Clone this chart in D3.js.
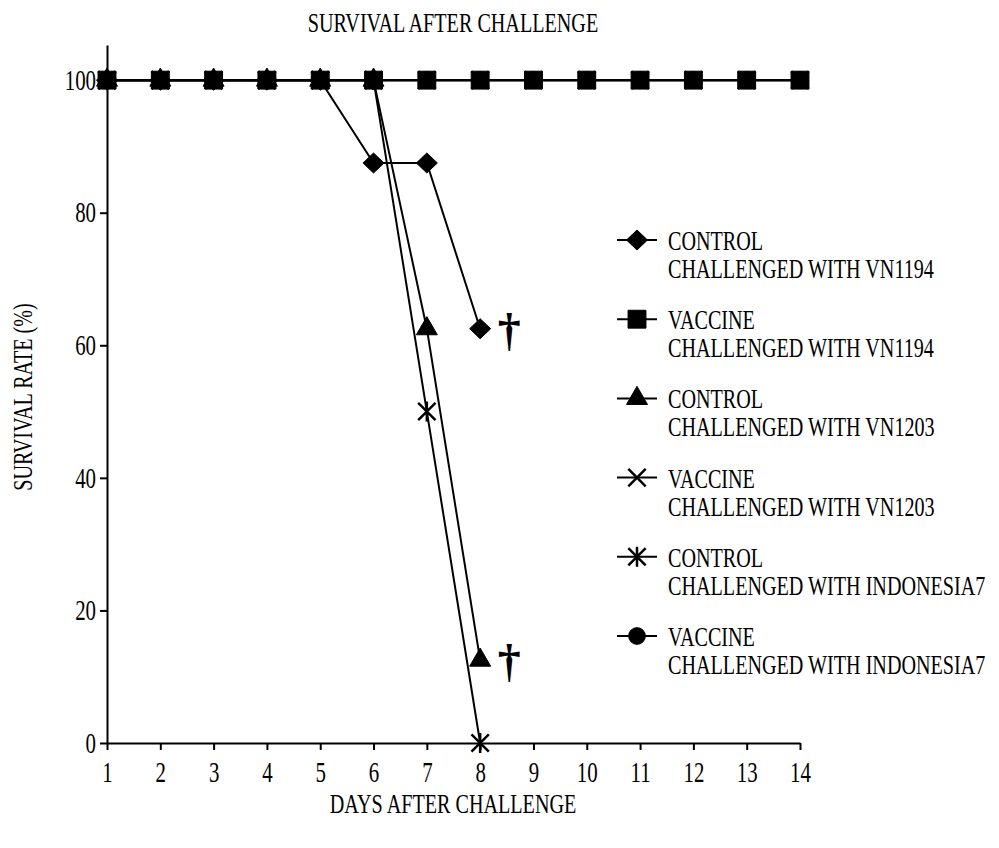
<!DOCTYPE html>
<html>
<head>
	<title>survival after challenge</title>
	<script src="https://cdn.jsdelivr.net/npm/d3@7"></script>
</head>
<style type="text/css">
body { margin: 0; background-color: #fff; }
text { font-family: "Liberation Serif", "Times New Roman", serif; fill: #000; }
</style>
<body>
</body>
<script type="text/javascript">
	var w = 999;
	var h = 848;

	// data
	var days = [1, 2, 3, 4, 5, 6, 7, 8, 9, 10, 11, 12, 13, 14];
	var yTicks = [0, 20, 40, 60, 80, 100];
	var controlVN1194 = [100, 100, 100, 100, 100, 87.5, 87.5, 62.5];
	var vaccineVN1194 = [100, 100, 100, 100, 100, 100, 100, 100, 100, 100, 100, 100, 100, 100];
	var controlVN1203 = [100, 100, 100, 100, 100, 100, 62.5, 12.5];
	var vaccineVN1203 = [100, 100, 100, 100, 100, 100, 100, 100, 100, 100, 100, 100, 100, 100];
	var controlIndo7 = [100, 100, 100, 100, 100, 100, 50, 0];
	var vaccineIndo7 = [100, 100, 100, 100, 100, 100, 100, 100, 100, 100, 100, 100, 100, 100];
	var names = [
		["CONTROL", "CHALLENGED WITH VN1194"],
		["VACCINE", "CHALLENGED WITH VN1194"],
		["CONTROL", "CHALLENGED WITH VN1203"],
		["VACCINE", "CHALLENGED WITH VN1203"],
		["CONTROL", "CHALLENGED WITH INDONESIA7"],
		["VACCINE", "CHALLENGED WITH INDONESIA7"]
	];

	var xDiamond = { draw: function(c, s) { var r = Math.sqrt(s) / 2; c.moveTo(0, -r); c.lineTo(r * 1.05, 0); c.lineTo(0, r); c.lineTo(-r * 1.05, 0); c.closePath(); } };
	var xTimes = { draw: function(c, s) { var r = Math.sqrt(s) / 2; c.moveTo(-r, -r); c.lineTo(r, r); c.moveTo(-r, r); c.lineTo(r, -r); } };
	var xAster = { draw: function(c, s) { var r = Math.sqrt(s) / 2; c.moveTo(-r, -r); c.lineTo(r, r); c.moveTo(-r, r); c.lineTo(r, -r); c.moveTo(0, -r * 1.15); c.lineTo(0, r * 1.15); } };

	var series = [
		{ name: names[0], values: controlVN1194, shape: xDiamond, size: 400, fill: true, dagger: true },
		{ name: names[1], values: vaccineVN1194, shape: d3.symbolSquare, size: 320, fill: true },
		{ name: names[2], values: controlVN1203, shape: d3.symbolTriangle, size: 190, fill: true, dagger: true },
		{ name: names[3], values: vaccineVN1203, shape: xTimes, size: 300, fill: false },
		{ name: names[4], values: controlIndo7, shape: xAster, size: 300, fill: false },
		{ name: names[5], values: vaccineIndo7, shape: d3.symbolCircle, size: 220, fill: true }
	];

	var fs = 28;
	var squeeze = 0.72;
	// narrow the serif face like the condensed type of the original
	function condense(sel) {
		sel.each(function() {
			var t = d3.select(this);
			var tx = +t.attr("x") || 0, ty = +t.attr("y") || 0;
			var rot = t.attr("data-rot") ? " rotate(" + t.attr("data-rot") + ")" : "";
			t.attr("x", 0).attr("y", 0)
				.attr("transform", "translate(" + tx + "," + ty + ")" + rot + " scale(" + squeeze + ",1)");
		});
	}

	var svg = d3.select("body").append("svg").attr("width", w).attr("height", h);

	var x = d3.scaleLinear().domain([1, 14]).range([107, 800]);
	var y = d3.scaleLinear().domain([0, 105.3]).range([743, 45]);

	var xAxis = d3.axisBottom(x).tickValues(days).tickSize(7).tickSizeOuter(0).tickFormat(d3.format("d"));
	var yAxis = d3.axisLeft(y).tickValues(yTicks).tickSize(7).tickSizeOuter(0).tickPadding(4);

	var gx = svg.append("g").attr("transform", "translate(0," + y(0) + ")").call(xAxis);
	var gy = svg.append("g").attr("transform", "translate(" + x(1) + ",0)").call(yAxis);
	[gx, gy].forEach(function(g) {
		g.select(".domain").attr("stroke", "#000").attr("stroke-width", 2);
		g.selectAll(".tick line").attr("stroke", "#000").attr("stroke-width", 2);
		g.selectAll(".tick text").attr("font-size", fs + 1).attr("font-family", "Liberation Serif").attr("fill", "#000");
	});
	gx.selectAll(".tick text").attr("y", 39).attr("dy", 0);
	condense(gx.selectAll(".tick text"));
	condense(gy.selectAll(".tick text"));

	var line = d3.line().x(function(d, i) { return x(days[i]); }).y(function(d) { return y(d); });

	series.forEach(function(s) {
		svg.append("path").attr("d", line(s.values)).attr("fill", "none").attr("stroke", "#000").attr("stroke-width", 2);
	});

	function marker(g, s) {
		return g.append("path")
			.attr("d", d3.symbol().type(s.shape).size(s.size)())
			.attr("fill", s.fill ? "#000" : "none")
			.attr("stroke", "#000")
			.attr("stroke-width", s.fill ? 1 : 2.5);
	}

	// squares drawn last so they sit on top along the 100% line
	var order = [0, 2, 3, 4, 5, 1];
	order.forEach(function(k) {
		var s = series[k];
		s.values.forEach(function(v, i) {
			var g = svg.append("g").attr("transform", "translate(" + x(days[i]) + "," + y(v) + ")");
			marker(g, s);
		});
		if (s.dagger) {
			var last = s.values.length - 1;
			svg.append("text")
				.attr("x", x(days[last]) + 29)
				.attr("y", y(s.values[last]) + 16)
				.attr("text-anchor", "middle")
				.attr("font-size", 46)
				.attr("font-weight", "bold")
				.text("\u2020");
		}
	});

	// legend
	var legend = svg.append("g").attr("transform", "translate(617,240)");
	series.forEach(function(s, i) {
		var row = legend.append("g").attr("transform", "translate(0," + (i * 79.2) + ")");
		row.append("line").attr("x1", 0).attr("x2", 40).attr("stroke", "#000").attr("stroke-width", 2);
		marker(row.append("g").attr("transform", "translate(20,0)"), s);
		row.selectAll("text").data(s.name).enter().append("text")
			.attr("x", 51)
			.attr("y", function(d, j) { return 10 + j * 28; })
			.attr("font-size", fs)
			.text(function(d) { return d; });
	});
	condense(legend.selectAll("text"));

	svg.append("text").attr("x", 453).attr("y", 32).attr("text-anchor", "middle").attr("font-size", fs)
		.text("SURVIVAL AFTER CHALLENGE").call(condense);
	svg.append("text").attr("x", 453).attr("y", 813).attr("text-anchor", "middle").attr("font-size", fs)
		.text("DAYS AFTER CHALLENGE").call(condense);
	svg.append("text").attr("x", 32).attr("y", 397).attr("data-rot", -90).attr("text-anchor", "middle").attr("font-size", fs)
		.text("SURVIVAL RATE (%)").call(condense);
</script>
</html>
